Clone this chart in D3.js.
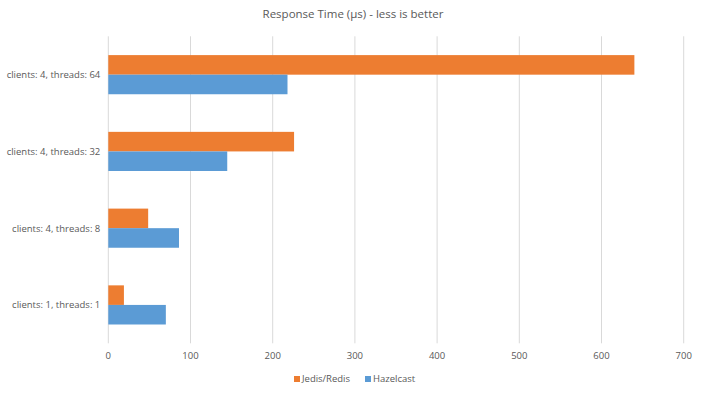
<!DOCTYPE html>
<html lang="en">
<head>
<meta charset="UTF-8">
<script src="https://d3js.org/d3.v7.min.js"></script>
<style>
  body { margin: 0; background: #fff; }
  text { font-family: "Open Sans", sans-serif; fill: #595959; }
</style>
</head>
<body>
<div id="chart"></div>
<script>
// Data
const categories = ["clients: 4, threads: 64", "clients: 4, threads: 32", "clients: 4, threads: 8", "clients: 1, threads: 1"];
const seriesNames = ["Jedis/Redis", "Hazelcast"];
const jedis = [640, 226, 48.5, 19];
const hazelcast = [218, 144.7, 86, 70];
const xTicks = [0, 100, 200, 300, 400, 500, 600, 700];
const colors = ["#ED7D31", "#5B9BD5"];

const width = 706, height = 399;
const margin = { top: 36.3, right: 22, bottom: 55.7, left: 108.3 };

const svg = d3.select("#chart").append("svg")
    .attr("width", width)
    .attr("height", height);

svg.append("text")
    .attr("x", width / 2)
    .attr("y", 18)
    .attr("text-anchor", "middle")
    .attr("font-size", "11.5px")
    .text("Response Time (\u00b5s) - less is better");

const x = d3.scaleLinear().domain([0, 700]).range([margin.left, 683.7]);
const y = d3.scaleBand().domain(categories)
    .range([margin.top, height - margin.bottom])
    .paddingInner(0.49)
    .paddingOuter(0.245);
const ySub = d3.scaleBand().domain(seriesNames).range([0, y.bandwidth()]);

// gridlines
svg.append("g").selectAll("line")
    .data(xTicks)
    .join("line")
    .attr("x1", d => x(d)).attr("x2", d => x(d))
    .attr("y1", margin.top).attr("y2", height - margin.bottom)
    .attr("stroke", "#d9d9d9")
    .attr("stroke-width", 1);

// x tick labels
svg.append("g").selectAll("text")
    .data(xTicks)
    .join("text")
    .attr("x", d => x(d))
    .attr("y", height - margin.bottom + 15.5)
    .attr("text-anchor", "middle")
    .attr("font-size", "9.5px")
    .text(d => d);

// category labels
svg.append("g").selectAll("text")
    .data(categories)
    .join("text")
    .attr("x", margin.left - 8)
    .attr("y", d => y(d) + y.bandwidth() / 2)
    .attr("dy", "0.35em")
    .attr("text-anchor", "end")
    .attr("font-size", "9.5px")
    .text(d => d);

// bars
const rows = categories.map((c, i) => ({ cat: c, values: [jedis[i], hazelcast[i]] }));
const group = svg.append("g").selectAll("g")
    .data(rows)
    .join("g")
    .attr("transform", d => `translate(0,${y(d.cat)})`);

group.selectAll("rect")
    .data(d => d.values.map((v, j) => ({ name: seriesNames[j], value: v, j })))
    .join("rect")
    .attr("x", x(0))
    .attr("y", d => ySub(d.name))
    .attr("width", d => x(d.value) - x(0))
    .attr("height", ySub.bandwidth())
    .attr("fill", d => colors[d.j]);

// legend
const legendItems = [{ name: seriesNames[0], x: 294 }, { name: seriesNames[1], x: 365 }];
const legend = svg.append("g").selectAll("g")
    .data(legendItems)
    .join("g")
    .attr("transform", d => `translate(${d.x},${379})`);
legend.append("rect")
    .attr("y", -3).attr("width", 6).attr("height", 6)
    .attr("fill", (d, i) => colors[i]);
legend.append("text")
    .attr("x", 8)
    .attr("dy", "0.35em")
    .attr("font-size", "9.5px")
    .text(d => d.name);
</script>
</body>
</html>
